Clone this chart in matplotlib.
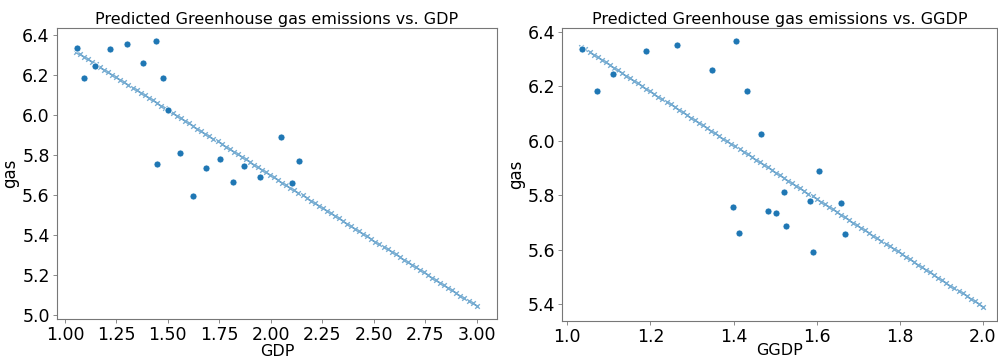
import numpy as np
import matplotlib
import matplotlib.pyplot as plt
matplotlib.use('Agg')

# observed greenhouse gas values (same countries in both panels)
gas = [6.336, 6.182, 6.246, 6.331, 6.352, 6.260, 6.366, 5.756, 6.183, 6.025,
       5.812, 5.593, 5.734, 5.779, 5.663, 5.744, 5.689, 5.891, 5.660, 5.771]
gdp = [1.057, 1.091, 1.146, 1.220, 1.303, 1.380, 1.444, 1.447, 1.475, 1.502,
       1.559, 1.624, 1.684, 1.752, 1.818, 1.868, 1.946, 2.051, 2.105, 2.137]
ggdp = [1.035, 1.071, 1.110, 1.189, 1.263, 1.349, 1.407, 1.399, 1.433, 1.465,
        1.521, 1.592, 1.503, 1.585, 1.413, 1.483, 1.527, 1.606, 1.668, 1.658]

# fitted linear models: gas = intercept + slope * x
gdp_fit = (7.001, -0.651)
ggdp_fit = (7.366, -0.987)
gdp_grid = (1.053, 3.0)
ggdp_grid = (1.034, 2.0)
n_grid = 100

fig = plt.figure(figsize=(9.98, 3.61), dpi=100)
ax1 = fig.add_axes([0.0568, 0.1163, 0.4412, 0.806])
ax2 = fig.add_axes([0.5634, 0.1108, 0.4356, 0.8116])


def draw(ax, x, fit, grid, name, xlim, ylim, yticks, xticks, xfmt, xpad):
    xs = np.linspace(grid[0], grid[1], n_grid)
    ys = fit[0] + fit[1] * xs
    ax.scatter(xs, ys, marker='x', s=11, color='#1f77b4', alpha=0.6, linewidths=1.0)
    ax.scatter(x, gas, s=26, color='#1f77b4', edgecolors='white', linewidths=0.6, zorder=3)
    ax.set_xlim(*xlim)
    ax.set_ylim(*ylim)
    ax.set_xticks(xticks)
    ax.set_xticklabels([xfmt.format(v) for v in xticks])
    ax.set_yticks(yticks)
    ax.set_yticklabels(['{:.1f}'.format(v) for v in yticks])
    ax.tick_params(labelsize=12.5, length=3, width=0.6, color='#777777', pad=2)
    for s in ax.spines.values():
        s.set_color('#777777')
        s.set_linewidth(0.8)
    ax.set_title('Predicted Greenhouse gas emissions vs. ' + name, fontsize=11.5, pad=3)
    ax.set_xlabel(name, fontsize=11.5, labelpad=xpad)
    ax.set_ylabel('gas', fontsize=12, labelpad=2)


draw(ax1, gdp, gdp_fit, gdp_grid, 'GDP', (0.960, 3.099), (4.982, 6.433),
     [5.0, 5.2, 5.4, 5.6, 5.8, 6.0, 6.2, 6.4],
     [1.0, 1.25, 1.5, 1.75, 2.0, 2.25, 2.5, 2.75, 3.0], '{:.2f}', 0)
draw(ax2, ggdp, ggdp_fit, ggdp_grid, 'GGDP', (0.988, 2.034), (5.339, 6.414),
     [5.4, 5.6, 5.8, 6.0, 6.2, 6.4],
     [1.0, 1.2, 1.4, 1.6, 1.8, 2.0], '{:.1f}', -2)

plt.savefig('out.png', dpi=100)
plt.close(fig)
